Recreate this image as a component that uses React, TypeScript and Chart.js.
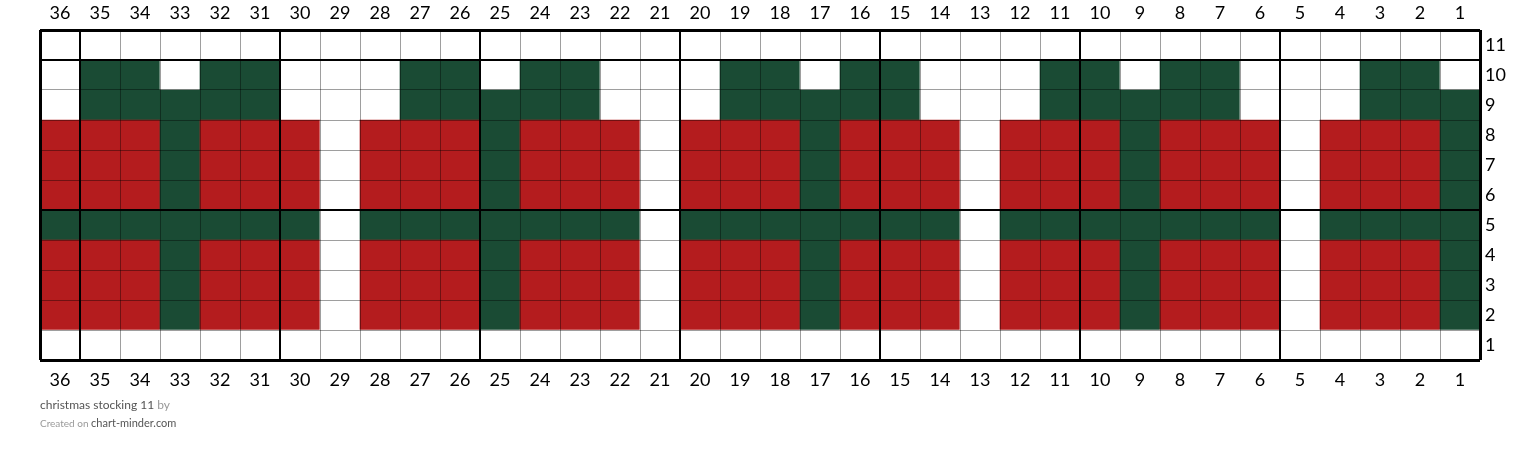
import React, { useEffect, useRef } from "react";
import { Chart, registerables } from "chart.js";

Chart.register(...registerables);

// Column labels, left to right (knitting charts count from the right)
const COLUMN_LABELS = [
  "36", "35", "34", "33", "32", "31", "30", "29", "28", "27", "26", "25",
  "24", "23", "22", "21", "20", "19", "18", "17", "16", "15", "14", "13",
  "12", "11", "10", "9", "8", "7", "6", "5", "4", "3", "2", "1",
];

// Row labels, top to bottom
const ROW_LABELS = ["11", "10", "9", "8", "7", "6", "5", "4", "3", "2", "1"];

// Cell colours per row, columns 36 -> 1 (W white, G green, R red)
const ROW_11 = "WWWWWWWWWWWWWWWWWWWWWWWWWWWWWWWWWWWW";
const ROW_10 = "WGGWGGWWWGGWGGWWWGGWGGWWWGGWGGWWWGGW";
const ROW_9 = "WGGGGGWWWGGGGGWWWGGGGGWWWGGGGGWWWGGG";
const ROW_8 = "RRRGRRRWRRRGRRRWRRRGRRRWRRRGRRRWRRRG";
const ROW_7 = "RRRGRRRWRRRGRRRWRRRGRRRWRRRGRRRWRRRG";
const ROW_6 = "RRRGRRRWRRRGRRRWRRRGRRRWRRRGRRRWRRRG";
const ROW_5 = "GGGGGGGWGGGGGGGWGGGGGGGWGGGGGGGWGGGG";
const ROW_4 = "RRRGRRRWRRRGRRRWRRRGRRRWRRRGRRRWRRRG";
const ROW_3 = "RRRGRRRWRRRGRRRWRRRGRRRWRRRGRRRWRRRG";
const ROW_2 = "RRRGRRRWRRRGRRRWRRRGRRRWRRRGRRRWRRRG";
const ROW_1 = "WWWWWWWWWWWWWWWWWWWWWWWWWWWWWWWWWWWW";

// Bottom to top
const ROWS = [ROW_1, ROW_2, ROW_3, ROW_4, ROW_5, ROW_6, ROW_7, ROW_8, ROW_9, ROW_10, ROW_11];

const PALETTE: Record<string, string> = {
  W: "#ffffff",
  G: "#1a4b34",
  R: "#b41c1e",
};

const THIN = "rgba(0,0,0,0.38)";
const BOLD = "#000000";

export default function App() {
  const canvasRef = useRef<HTMLCanvasElement | null>(null);

  useEffect(() => {
    const canvas = canvasRef.current;
    if (!canvas) return;
    Chart.defaults.font.family = "Lato";

    const datasets = ROWS.map((row, r) => ({
      label: "Row " + (r + 1),
      data: COLUMN_LABELS.map(() => [r, r + 1]),
      backgroundColor: row.split("").map((c) => PALETTE[c]),
      borderWidth: 0,
      barPercentage: 1,
      categoryPercentage: 1,
      grouped: false,
      xAxisID: "x",
      yAxisID: "y",
    }));

    const nCols = COLUMN_LABELS.length;
    const nRows = ROW_LABELS.length;

    const chart = new Chart(canvas, {
      type: "bar",
      data: { labels: COLUMN_LABELS, datasets: datasets as any },
      options: {
        responsive: false,
        animation: false,
        events: [],
        layout: { padding: { left: 40, right: 0, top: 0, bottom: 0 } },
        plugins: { legend: { display: false }, tooltip: { enabled: false } },
        scales: {
          x: {
            type: "category",
            position: "bottom",
            offset: true,
            border: { display: false },
            grid: {
              z: 1,
              offset: true,
              drawTicks: false,
              color: (ctx: any) => {
                const i = ctx.index;
                if (i === undefined || i === 0 || i >= nCols) return BOLD;
                return i % 5 === 1 ? BOLD : THIN;
              },
              lineWidth: (ctx: any) => {
                const i = ctx.index;
                if (i === undefined || i === 0 || i >= nCols) return 3;
                return i % 5 === 1 ? 2 : 1;
              },
            },
            ticks: {
              color: "#000",
              font: { size: 18 },
              padding: 9,
              maxRotation: 0,
              autoSkip: false,
            },
            afterFit: (s: any) => {
              s.height = 93;
            },
          },
          xTop: {
            type: "category",
            position: "top",
            labels: COLUMN_LABELS,
            offset: true,
            border: { display: false },
            grid: { display: false, drawTicks: false },
            ticks: {
              color: "#000",
              font: { size: 18 },
              padding: 6,
              maxRotation: 0,
              autoSkip: false,
            },
            afterFit: (s: any) => {
              s.height = 30;
            },
          },
          y: {
            type: "linear",
            position: "left",
            min: 0,
            max: nRows,
            border: { display: false },
            grid: {
              z: 1,
              drawTicks: false,
              color: (ctx: any) => {
                const v = ctx.tick ? ctx.tick.value : 0;
                return v === 0 || v === nRows || v % 5 === 0 ? BOLD : THIN;
              },
              lineWidth: (ctx: any) => {
                const v = ctx.tick ? ctx.tick.value : 0;
                if (v === 0 || v === nRows) return 3;
                return v % 5 === 0 ? 2 : 1;
              },
            },
            ticks: { display: false, stepSize: 1 },
            afterFit: (s: any) => {
              s.width = 0;
            },
          },
          yLab: {
            type: "category",
            position: "right",
            labels: ROW_LABELS,
            offset: true,
            border: { display: false },
            grid: { display: false, drawTicks: false },
            ticks: {
              color: "#000",
              font: { size: 18 },
              padding: 5,
              autoSkip: false,
            },
            afterFit: (s: any) => {
              s.width = 40;
            },
          },
        },
      } as any,
    });

    return () => chart.destroy();
  }, []);

  return (
    <div style={{ position: "absolute", left: 0, top: 0, width: 1520, height: 453, background: "#fff" }}>
      <canvas ref={canvasRef} width={1520} height={453} style={{ width: 1520, height: 453, display: "block" }} />
      <div
        style={{
          position: "absolute",
          left: 40,
          top: 396,
          fontFamily: "Lato",
          fontSize: 12,
          lineHeight: "18px",
          color: "#555",
        }}
      >
        <div>
          christmas stocking 11 <span style={{ color: "#999" }}>by</span>
        </div>
        <div>
          <span style={{ color: "#999", fontSize: 10 }}>Created on </span>
          <span style={{ color: "#555", fontSize: 11 }}>chart-minder.com</span>
        </div>
      </div>
    </div>
  );
}
